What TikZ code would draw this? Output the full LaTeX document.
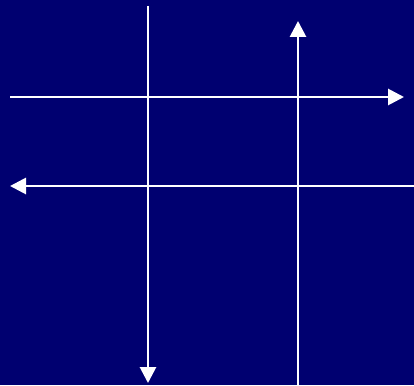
\documentclass[tikz,border=0pt]{standalone}
\usepackage{tikz}
\usetikzlibrary{arrows.meta}
\definecolor{Navy}{HTML}{000070}

\begin{document}
\begin{tikzpicture}[x=1pt, y=-1pt, >={Triangle[length=16pt,width=16pt]},
    wire/.style={white, line width=2.8pt}]
    \fill[Navy] (0,0) rectangle (414,385);
    \useasboundingbox (0,0) rectangle (414,385);

    % end points of the four lines
    \coordinate (v1top) at (148,6);
    \coordinate (v1bot) at (148,383);
    \coordinate (v2top) at (298,21);
    \coordinate (v2bot) at (298,385);
    \coordinate (h1left) at (10,97);
    \coordinate (h1right) at (404,97);
    \coordinate (h2left) at (10,186);
    \coordinate (h2right) at (414,186);

    \draw[wire,->] (v1top) -- (v1bot);
    \draw[wire,->] (v2bot) -- (v2top);
    \draw[wire,->] (h1left) -- (h1right);
    \draw[wire,->] (h2right) -- (h2left);
\end{tikzpicture}
\end{document}
